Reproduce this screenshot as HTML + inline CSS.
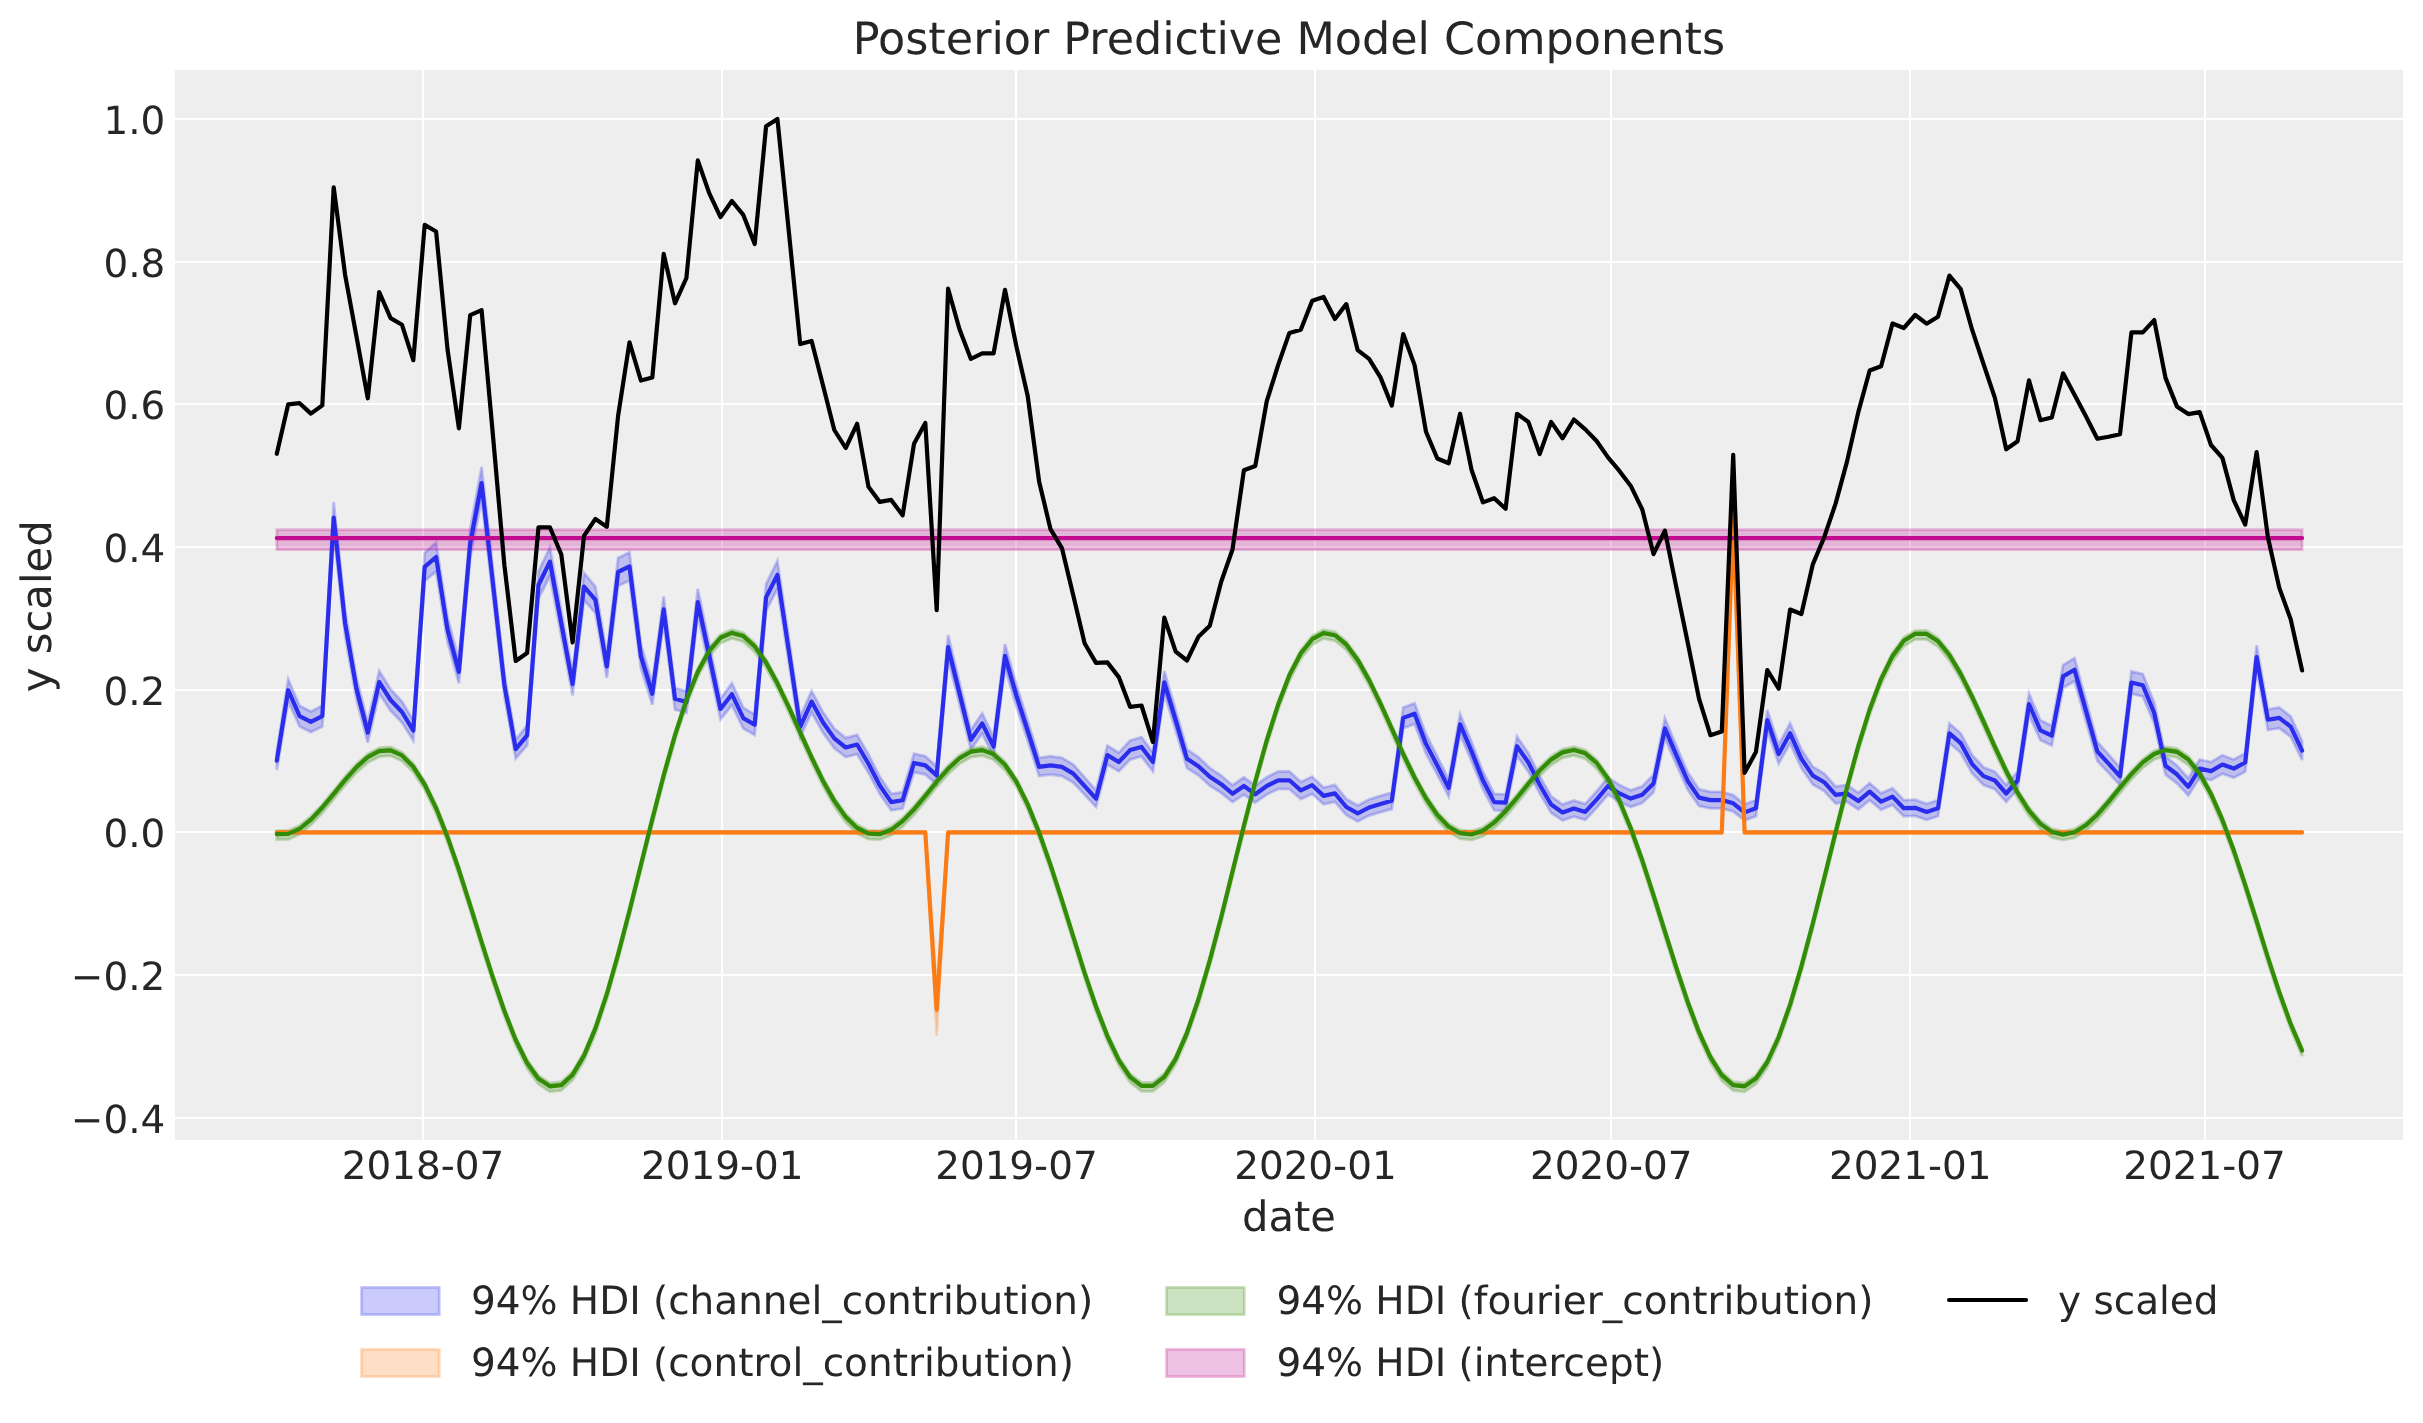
<!DOCTYPE html>
<html lang="en"><head><meta charset="utf-8"><title>Posterior Predictive Model Components</title>
<style>html,body{margin:0;padding:0;background:#fff;}body{width:2423px;height:1423px;overflow:hidden;}svg{will-change:transform;}svg text{text-rendering:geometricPrecision;font-family:"DejaVu Sans","Liberation Sans",sans-serif;}</style></head>
<body>
<svg width="2423" height="1423" viewBox="0 0 2423 1423" style="display:block">
<rect x="0" y="0" width="2423" height="1423" fill="#ffffff"/>
<rect x="175" y="70" width="2228.0" height="1070.0" fill="#eeeeee"/>
<clipPath id="ax"><rect x="175" y="70" width="2228.0" height="1070.0"/></clipPath>
<g stroke="#ffffff" stroke-width="2" fill="none">
<line x1="423" y1="70" x2="423" y2="1140"/>
<line x1="722" y1="70" x2="722" y2="1140"/>
<line x1="1016" y1="70" x2="1016" y2="1140"/>
<line x1="1315" y1="70" x2="1315" y2="1140"/>
<line x1="1611" y1="70" x2="1611" y2="1140"/>
<line x1="1910" y1="70" x2="1910" y2="1140"/>
<line x1="2205" y1="70" x2="2205" y2="1140"/>
<line x1="175" y1="1118" x2="2403" y2="1118"/>
<line x1="175" y1="975" x2="2403" y2="975"/>
<line x1="175" y1="832" x2="2403" y2="832"/>
<line x1="175" y1="690" x2="2403" y2="690"/>
<line x1="175" y1="547" x2="2403" y2="547"/>
<line x1="175" y1="404" x2="2403" y2="404"/>
<line x1="175" y1="262" x2="2403" y2="262"/>
<line x1="175" y1="119" x2="2403" y2="119"/>
</g>
<g fill="#262626" font-size="38.9">
<text x="423.1" y="1179.1" text-anchor="middle">2018-07</text>
<text x="722.2" y="1179.1" text-anchor="middle">2019-01</text>
<text x="1016.4" y="1179.1" text-anchor="middle">2019-07</text>
<text x="1315.4" y="1179.1" text-anchor="middle">2020-01</text>
<text x="1611.3" y="1179.1" text-anchor="middle">2020-07</text>
<text x="1910.3" y="1179.1" text-anchor="middle">2021-01</text>
<text x="2204.5" y="1179.1" text-anchor="middle">2021-07</text>
<text x="165.3" y="1132.8" text-anchor="end">−0.4</text>
<text x="165.3" y="990.1" text-anchor="end">−0.2</text>
<text x="165.3" y="847.4" text-anchor="end">0.0</text>
<text x="165.3" y="704.7" text-anchor="end">0.2</text>
<text x="165.3" y="562.0" text-anchor="end">0.4</text>
<text x="165.3" y="419.3" text-anchor="end">0.6</text>
<text x="165.3" y="276.6" text-anchor="end">0.8</text>
<text x="165.3" y="133.9" text-anchor="end">1.0</text>
</g>
<text x="1289.0" y="54" text-anchor="middle" font-size="44.44" fill="#262626">Posterior Predictive Model Components</text>
<text x="1289.0" y="1231.3" text-anchor="middle" font-size="41.7" fill="#262626">date</text>
<text transform="translate(50.5,606.3) rotate(-90)" text-anchor="middle" font-size="41.7" fill="#262626">y scaled</text>
<g clip-path="url(#ax)" fill="none" stroke-linejoin="round" stroke-linecap="butt">
<path d="M276.8,751.4 L288.2,679.2 L299.6,705.7 L310.9,711.6 L322.3,705.7 L333.7,502.1 L345.1,610.6 L356.5,677.8 L367.8,722.6 L379.2,670.8 L390.6,689.2 L402.0,701.5 L413.3,720.5 L424.7,552.8 L436.1,542.6 L447.5,616.9 L458.9,660.4 L470.2,528.7 L481.6,466.9 L493.0,570.2 L504.4,673.8 L515.7,739.5 L527.1,725.4 L538.5,571.3 L549.9,547.4 L561.3,610.7 L572.6,672.9 L584.0,572.9 L595.4,586.5 L606.8,654.8 L618.1,558.0 L629.5,552.3 L640.9,644.3 L652.3,682.8 L663.7,596.4 L675.0,688.0 L686.4,691.3 L697.8,588.8 L709.2,643.5 L720.5,698.5 L731.9,683.2 L743.3,707.7 L754.7,714.6 L766.1,584.0 L777.4,561.0 L788.8,638.5 L800.2,716.7 L811.6,690.9 L822.9,712.1 L834.3,728.6 L845.7,737.9 L857.1,734.8 L868.5,754.5 L879.8,776.8 L891.2,793.8 L902.6,792.0 L914.0,753.7 L925.3,756.2 L936.7,766.4 L948.1,635.1 L959.5,682.2 L970.9,730.0 L982.2,713.2 L993.6,737.1 L1005.0,644.0 L1016.4,684.7 L1027.7,720.8 L1039.1,757.8 L1050.5,756.2 L1061.9,757.8 L1073.3,764.6 L1084.6,777.3 L1096.0,790.3 L1107.4,745.6 L1118.8,752.7 L1130.1,740.5 L1141.5,737.2 L1152.9,752.8 L1164.3,671.1 L1175.7,710.1 L1187.0,749.4 L1198.4,757.0 L1209.8,767.9 L1221.2,775.5 L1232.5,785.2 L1243.9,777.3 L1255.3,785.7 L1266.7,777.3 L1278.1,771.5 L1289.4,771.5 L1300.8,781.9 L1312.2,776.6 L1323.6,787.5 L1334.9,784.9 L1346.3,798.9 L1357.7,805.5 L1369.1,799.4 L1380.5,795.8 L1391.8,792.5 L1403.2,707.5 L1414.6,703.2 L1426.0,734.2 L1437.3,756.4 L1448.7,779.4 L1460.1,714.2 L1471.5,741.8 L1482.9,771.5 L1494.2,793.8 L1505.6,794.3 L1517.0,736.6 L1528.4,753.2 L1539.7,776.1 L1551.1,796.3 L1562.5,804.4 L1573.9,800.4 L1585.3,803.9 L1596.6,791.3 L1608.0,777.3 L1619.4,784.9 L1630.8,790.2 L1642.2,786.2 L1653.5,774.8 L1664.9,718.3 L1676.3,745.6 L1687.7,772.3 L1699.0,789.2 L1710.4,791.8 L1721.8,791.8 L1733.2,795.1 L1744.6,804.4 L1755.9,800.1 L1767.3,709.9 L1778.7,744.7 L1790.1,723.3 L1801.4,749.4 L1812.8,766.7 L1824.2,773.5 L1835.6,786.5 L1847.0,784.9 L1858.3,792.8 L1869.7,783.1 L1881.1,793.3 L1892.5,788.2 L1903.8,800.1 L1915.2,799.7 L1926.6,803.9 L1938.0,800.1 L1949.4,723.4 L1960.7,733.3 L1972.1,754.9 L1983.5,767.2 L1994.9,771.7 L2006.2,785.1 L2017.6,771.7 L2029.0,693.4 L2040.4,720.3 L2051.8,725.8 L2063.1,665.0 L2074.5,658.1 L2085.9,699.9 L2097.3,741.8 L2108.6,754.5 L2120.0,767.5 L2131.4,671.3 L2142.8,674.1 L2154.2,702.5 L2165.5,756.5 L2176.9,765.4 L2188.3,778.2 L2199.7,759.5 L2211.0,762.1 L2222.4,755.3 L2233.8,759.5 L2245.2,753.2 L2256.6,645.2 L2267.9,709.4 L2279.3,707.5 L2290.7,716.5 L2302.1,741.0 L2302.1,760.1 L2290.7,736.7 L2279.3,728.2 L2267.9,730.0 L2256.6,669.0 L2245.2,771.7 L2233.8,777.7 L2222.4,773.7 L2211.0,780.1 L2199.7,777.7 L2188.3,795.4 L2176.9,783.3 L2165.5,774.8 L2154.2,723.4 L2142.8,696.4 L2131.4,693.7 L2120.0,785.3 L2108.6,772.9 L2097.3,760.9 L2085.9,721.0 L2074.5,681.2 L2063.1,687.8 L2051.8,745.6 L2040.4,740.3 L2029.0,714.8 L2017.6,789.2 L2006.2,802.0 L1994.9,789.3 L1983.5,785.0 L1972.1,773.3 L1960.7,752.8 L1949.4,743.3 L1938.0,816.3 L1926.6,819.9 L1915.2,815.9 L1903.8,816.3 L1892.5,805.0 L1881.1,809.8 L1869.7,800.2 L1858.3,809.4 L1847.0,801.8 L1835.6,803.4 L1824.2,791.0 L1812.8,784.5 L1801.4,768.1 L1790.1,743.3 L1778.7,763.6 L1767.3,730.5 L1755.9,816.3 L1744.6,820.4 L1733.2,811.5 L1721.8,808.4 L1710.4,808.4 L1699.0,805.9 L1687.7,789.8 L1676.3,764.5 L1664.9,738.5 L1653.5,792.2 L1642.2,803.1 L1630.8,806.9 L1619.4,801.8 L1608.0,794.6 L1596.6,807.9 L1585.3,819.9 L1573.9,816.6 L1562.5,820.4 L1551.1,812.7 L1539.7,793.4 L1528.4,771.7 L1517.0,755.9 L1505.6,810.8 L1494.2,810.3 L1482.9,789.1 L1471.5,760.9 L1460.1,734.6 L1448.7,796.6 L1437.3,774.7 L1426.0,753.6 L1414.6,724.1 L1403.2,728.2 L1391.8,809.1 L1380.5,812.2 L1369.1,815.6 L1357.7,821.4 L1346.3,815.1 L1334.9,801.8 L1323.6,804.3 L1312.2,793.9 L1300.8,799.0 L1289.4,789.1 L1278.1,789.1 L1266.7,794.6 L1255.3,802.6 L1243.9,794.6 L1232.5,802.1 L1221.2,792.9 L1209.8,785.7 L1198.4,775.3 L1187.0,768.1 L1175.7,730.7 L1164.3,693.6 L1152.9,771.3 L1141.5,756.5 L1130.1,759.6 L1118.8,771.2 L1107.4,764.5 L1096.0,807.0 L1084.6,794.6 L1073.3,782.6 L1061.9,776.0 L1050.5,774.6 L1039.1,776.0 L1027.7,740.8 L1016.4,706.5 L1005.0,667.8 L993.6,756.3 L982.2,733.7 L970.9,749.6 L959.5,704.2 L948.1,659.3 L936.7,784.2 L925.3,774.6 L914.0,772.2 L902.6,808.6 L891.2,810.3 L879.8,794.1 L868.5,772.9 L857.1,754.2 L845.7,757.1 L834.3,748.3 L822.9,732.6 L811.6,712.4 L800.2,737.0 L788.8,662.6 L777.4,588.8 L766.1,610.7 L754.7,735.0 L743.3,728.4 L731.9,705.1 L720.5,719.6 L709.2,667.4 L697.8,615.3 L686.4,712.8 L675.0,709.7 L663.7,622.5 L652.3,704.7 L640.9,668.1 L629.5,580.5 L618.1,586.0 L606.8,678.1 L595.4,613.1 L584.0,600.2 L572.6,695.3 L561.3,636.1 L549.9,575.9 L538.5,598.6 L527.1,745.3 L515.7,758.6 L504.4,696.2 L493.0,597.6 L481.6,499.4 L470.2,558.1 L458.9,683.4 L447.5,642.0 L436.1,571.4 L424.7,581.0 L413.3,740.6 L402.0,722.5 L390.6,710.8 L379.2,693.3 L367.8,742.6 L356.5,700.0 L345.1,636.1 L333.7,532.8 L322.3,726.5 L310.9,732.1 L299.6,726.5 L288.2,701.2 L276.8,770.0Z" fill="#2a2eec" fill-opacity="0.25" stroke="#2a2eec" stroke-opacity="0.25" stroke-width="2.78" stroke-linejoin="miter"/>
<path d="M276.8,831.3 L288.2,831.3 L299.6,831.3 L310.9,831.3 L322.3,831.3 L333.7,831.3 L345.1,831.3 L356.5,831.3 L367.8,831.3 L379.2,831.3 L390.6,831.3 L402.0,831.3 L413.3,831.3 L424.7,831.3 L436.1,831.3 L447.5,831.3 L458.9,831.3 L470.2,831.3 L481.6,831.3 L493.0,831.3 L504.4,831.3 L515.7,831.3 L527.1,831.3 L538.5,831.3 L549.9,831.3 L561.3,831.3 L572.6,831.3 L584.0,831.3 L595.4,831.3 L606.8,831.3 L618.1,831.3 L629.5,831.3 L640.9,831.3 L652.3,831.3 L663.7,831.3 L675.0,831.3 L686.4,831.3 L697.8,831.3 L709.2,831.3 L720.5,831.3 L731.9,831.3 L743.3,831.3 L754.7,831.3 L766.1,831.3 L777.4,831.3 L788.8,831.3 L800.2,831.3 L811.6,831.3 L822.9,831.3 L834.3,831.3 L845.7,831.3 L857.1,831.3 L868.5,831.3 L879.8,831.3 L891.2,831.3 L902.6,831.3 L914.0,831.3 L925.3,831.3 L936.7,985.8 L948.1,831.3 L959.5,831.3 L970.9,831.3 L982.2,831.3 L993.6,831.3 L1005.0,831.3 L1016.4,831.3 L1027.7,831.3 L1039.1,831.3 L1050.5,831.3 L1061.9,831.3 L1073.3,831.3 L1084.6,831.3 L1096.0,831.3 L1107.4,831.3 L1118.8,831.3 L1130.1,831.3 L1141.5,831.3 L1152.9,831.3 L1164.3,831.3 L1175.7,831.3 L1187.0,831.3 L1198.4,831.3 L1209.8,831.3 L1221.2,831.3 L1232.5,831.3 L1243.9,831.3 L1255.3,831.3 L1266.7,831.3 L1278.1,831.3 L1289.4,831.3 L1300.8,831.3 L1312.2,831.3 L1323.6,831.3 L1334.9,831.3 L1346.3,831.3 L1357.7,831.3 L1369.1,831.3 L1380.5,831.3 L1391.8,831.3 L1403.2,831.3 L1414.6,831.3 L1426.0,831.3 L1437.3,831.3 L1448.7,831.3 L1460.1,831.3 L1471.5,831.3 L1482.9,831.3 L1494.2,831.3 L1505.6,831.3 L1517.0,831.3 L1528.4,831.3 L1539.7,831.3 L1551.1,831.3 L1562.5,831.3 L1573.9,831.3 L1585.3,831.3 L1596.6,831.3 L1608.0,831.3 L1619.4,831.3 L1630.8,831.3 L1642.2,831.3 L1653.5,831.3 L1664.9,831.3 L1676.3,831.3 L1687.7,831.3 L1699.0,831.3 L1710.4,831.3 L1721.8,831.3 L1733.2,493.5 L1744.6,831.3 L1755.9,831.3 L1767.3,831.3 L1778.7,831.3 L1790.1,831.3 L1801.4,831.3 L1812.8,831.3 L1824.2,831.3 L1835.6,831.3 L1847.0,831.3 L1858.3,831.3 L1869.7,831.3 L1881.1,831.3 L1892.5,831.3 L1903.8,831.3 L1915.2,831.3 L1926.6,831.3 L1938.0,831.3 L1949.4,831.3 L1960.7,831.3 L1972.1,831.3 L1983.5,831.3 L1994.9,831.3 L2006.2,831.3 L2017.6,831.3 L2029.0,831.3 L2040.4,831.3 L2051.8,831.3 L2063.1,831.3 L2074.5,831.3 L2085.9,831.3 L2097.3,831.3 L2108.6,831.3 L2120.0,831.3 L2131.4,831.3 L2142.8,831.3 L2154.2,831.3 L2165.5,831.3 L2176.9,831.3 L2188.3,831.3 L2199.7,831.3 L2211.0,831.3 L2222.4,831.3 L2233.8,831.3 L2245.2,831.3 L2256.6,831.3 L2267.9,831.3 L2279.3,831.3 L2290.7,831.3 L2302.1,831.3 L2302.1,833.5 L2290.7,833.5 L2279.3,833.5 L2267.9,833.5 L2256.6,833.5 L2245.2,833.5 L2233.8,833.5 L2222.4,833.5 L2211.0,833.5 L2199.7,833.5 L2188.3,833.5 L2176.9,833.5 L2165.5,833.5 L2154.2,833.5 L2142.8,833.5 L2131.4,833.5 L2120.0,833.5 L2108.6,833.5 L2097.3,833.5 L2085.9,833.5 L2074.5,833.5 L2063.1,833.5 L2051.8,833.5 L2040.4,833.5 L2029.0,833.5 L2017.6,833.5 L2006.2,833.5 L1994.9,833.5 L1983.5,833.5 L1972.1,833.5 L1960.7,833.5 L1949.4,833.5 L1938.0,833.5 L1926.6,833.5 L1915.2,833.5 L1903.8,833.5 L1892.5,833.5 L1881.1,833.5 L1869.7,833.5 L1858.3,833.5 L1847.0,833.5 L1835.6,833.5 L1824.2,833.5 L1812.8,833.5 L1801.4,833.5 L1790.1,833.5 L1778.7,833.5 L1767.3,833.5 L1755.9,833.5 L1744.6,833.5 L1733.2,543.4 L1721.8,833.5 L1710.4,833.5 L1699.0,833.5 L1687.7,833.5 L1676.3,833.5 L1664.9,833.5 L1653.5,833.5 L1642.2,833.5 L1630.8,833.5 L1619.4,833.5 L1608.0,833.5 L1596.6,833.5 L1585.3,833.5 L1573.9,833.5 L1562.5,833.5 L1551.1,833.5 L1539.7,833.5 L1528.4,833.5 L1517.0,833.5 L1505.6,833.5 L1494.2,833.5 L1482.9,833.5 L1471.5,833.5 L1460.1,833.5 L1448.7,833.5 L1437.3,833.5 L1426.0,833.5 L1414.6,833.5 L1403.2,833.5 L1391.8,833.5 L1380.5,833.5 L1369.1,833.5 L1357.7,833.5 L1346.3,833.5 L1334.9,833.5 L1323.6,833.5 L1312.2,833.5 L1300.8,833.5 L1289.4,833.5 L1278.1,833.5 L1266.7,833.5 L1255.3,833.5 L1243.9,833.5 L1232.5,833.5 L1221.2,833.5 L1209.8,833.5 L1198.4,833.5 L1187.0,833.5 L1175.7,833.5 L1164.3,833.5 L1152.9,833.5 L1141.5,833.5 L1130.1,833.5 L1118.8,833.5 L1107.4,833.5 L1096.0,833.5 L1084.6,833.5 L1073.3,833.5 L1061.9,833.5 L1050.5,833.5 L1039.1,833.5 L1027.7,833.5 L1016.4,833.5 L1005.0,833.5 L993.6,833.5 L982.2,833.5 L970.9,833.5 L959.5,833.5 L948.1,833.5 L936.7,1035.7 L925.3,833.5 L914.0,833.5 L902.6,833.5 L891.2,833.5 L879.8,833.5 L868.5,833.5 L857.1,833.5 L845.7,833.5 L834.3,833.5 L822.9,833.5 L811.6,833.5 L800.2,833.5 L788.8,833.5 L777.4,833.5 L766.1,833.5 L754.7,833.5 L743.3,833.5 L731.9,833.5 L720.5,833.5 L709.2,833.5 L697.8,833.5 L686.4,833.5 L675.0,833.5 L663.7,833.5 L652.3,833.5 L640.9,833.5 L629.5,833.5 L618.1,833.5 L606.8,833.5 L595.4,833.5 L584.0,833.5 L572.6,833.5 L561.3,833.5 L549.9,833.5 L538.5,833.5 L527.1,833.5 L515.7,833.5 L504.4,833.5 L493.0,833.5 L481.6,833.5 L470.2,833.5 L458.9,833.5 L447.5,833.5 L436.1,833.5 L424.7,833.5 L413.3,833.5 L402.0,833.5 L390.6,833.5 L379.2,833.5 L367.8,833.5 L356.5,833.5 L345.1,833.5 L333.7,833.5 L322.3,833.5 L310.9,833.5 L299.6,833.5 L288.2,833.5 L276.8,833.5Z" fill="#fa7c17" fill-opacity="0.25" stroke="#fa7c17" stroke-opacity="0.25" stroke-width="2.78" stroke-linejoin="miter"/>
<path d="M276.8,830.8 L288.2,830.5 L299.6,825.4 L310.9,816.3 L322.3,804.2 L333.7,790.4 L345.1,776.4 L356.5,763.7 L367.8,753.8 L379.2,747.8 L390.6,747.0 L402.0,752.1 L413.3,763.4 L424.7,781.1 L436.1,804.7 L447.5,833.6 L458.9,866.5 L470.2,902.0 L481.6,938.6 L493.0,974.4 L504.4,1007.7 L515.7,1036.6 L527.1,1059.6 L538.5,1075.4 L549.9,1083.0 L561.3,1081.7 L572.6,1071.4 L584.0,1052.3 L595.4,1025.1 L606.8,990.9 L618.1,951.1 L629.5,907.4 L640.9,861.7 L652.3,815.9 L663.7,772.0 L675.0,731.8 L686.4,696.8 L697.8,668.3 L709.2,647.4 L720.5,634.5 L731.9,629.6 L743.3,632.8 L754.7,643.0 L766.1,659.2 L777.4,680.0 L788.8,703.8 L800.2,729.0 L811.6,754.1 L822.9,777.3 L834.3,797.5 L845.7,813.5 L857.1,824.6 L868.5,830.4 L879.8,830.9 L891.2,826.4 L902.6,817.8 L914.0,806.0 L925.3,792.4 L936.7,778.4 L948.1,765.4 L959.5,755.0 L970.9,748.4 L982.2,746.8 L993.6,751.0 L1005.0,761.4 L1016.4,778.2 L1027.7,801.0 L1039.1,829.2 L1050.5,861.6 L1061.9,896.9 L1073.3,933.4 L1084.6,969.4 L1096.0,1003.1 L1107.4,1032.8 L1118.8,1056.7 L1130.1,1073.7 L1141.5,1082.4 L1152.9,1082.4 L1164.3,1073.4 L1175.7,1055.5 L1187.0,1029.4 L1198.4,996.1 L1209.8,957.0 L1221.2,913.8 L1232.5,868.3 L1243.9,822.4 L1255.3,778.1 L1266.7,737.2 L1278.1,701.4 L1289.4,672.0 L1300.8,649.9 L1312.2,635.8 L1323.6,629.8 L1334.9,631.9 L1346.3,641.2 L1357.7,656.6 L1369.1,676.8 L1380.5,700.3 L1391.8,725.4 L1403.2,750.5 L1414.6,774.2 L1426.0,794.9 L1437.3,811.5 L1448.7,823.4 L1460.1,829.9 L1471.5,831.1 L1482.9,827.3 L1494.2,819.2 L1505.6,807.9 L1517.0,794.4 L1528.4,780.3 L1539.7,767.1 L1551.1,756.2 L1562.5,749.0 L1573.9,746.7 L1585.3,750.0 L1596.6,759.5 L1608.0,775.4 L1619.4,797.4 L1630.8,824.9 L1642.2,856.7 L1653.5,891.7 L1664.9,928.2 L1676.3,964.4 L1687.7,998.5 L1699.0,1028.9 L1710.4,1053.7 L1721.8,1071.7 L1733.2,1081.7 L1744.6,1083.0 L1755.9,1075.2 L1767.3,1058.6 L1778.7,1033.6 L1790.1,1001.3 L1801.4,962.9 L1812.8,920.2 L1824.2,874.8 L1835.6,828.9 L1847.0,784.2 L1858.3,742.8 L1869.7,706.2 L1881.1,675.7 L1892.5,652.6 L1903.8,637.3 L1915.2,630.6 L1926.6,630.5 L1938.0,637.8 L1949.4,651.6 L1960.7,670.6 L1972.1,693.3 L1983.5,718.1 L1994.9,743.5 L2006.2,767.7 L2017.6,789.3 L2029.0,807.2 L2040.4,820.5 L2051.8,828.6 L2063.1,831.3 L2074.5,828.9 L2085.9,821.9 L2097.3,811.4 L2108.6,798.4 L2120.0,784.3 L2131.4,770.7 L2142.8,759.0 L2154.2,750.7 L2165.5,746.8 L2176.9,748.4 L2188.3,756.1 L2199.7,770.2 L2211.0,790.5 L2222.4,816.5 L2233.8,847.3 L2245.2,881.5 L2256.6,917.7 L2267.9,954.2 L2279.3,989.1 L2290.7,1020.7 L2302.1,1047.3 L2302.1,1056.1 L2290.7,1029.5 L2279.3,997.9 L2267.9,963.0 L2256.6,926.5 L2245.2,890.3 L2233.8,856.1 L2222.4,825.4 L2211.0,799.4 L2199.7,779.1 L2188.3,765.0 L2176.9,757.3 L2165.5,755.6 L2154.2,759.5 L2142.8,767.9 L2131.4,779.6 L2120.0,793.2 L2108.6,807.2 L2097.3,820.2 L2085.9,830.8 L2074.5,837.7 L2063.1,840.1 L2051.8,837.4 L2040.4,829.3 L2029.0,816.1 L2017.6,798.2 L2006.2,776.5 L1994.9,752.3 L1983.5,727.0 L1972.1,702.1 L1960.7,679.4 L1949.4,660.5 L1938.0,646.7 L1926.6,639.4 L1915.2,639.4 L1903.8,646.2 L1892.5,661.4 L1881.1,684.6 L1869.7,715.0 L1858.3,751.6 L1847.0,793.1 L1835.6,837.7 L1824.2,883.7 L1812.8,929.0 L1801.4,971.8 L1790.1,1010.1 L1778.7,1042.5 L1767.3,1067.5 L1755.9,1084.1 L1744.6,1091.8 L1733.2,1090.6 L1721.8,1080.6 L1710.4,1062.6 L1699.0,1037.7 L1687.7,1007.4 L1676.3,973.2 L1664.9,937.0 L1653.5,900.5 L1642.2,865.6 L1630.8,833.7 L1619.4,806.3 L1608.0,784.3 L1596.6,768.4 L1585.3,758.8 L1573.9,755.5 L1562.5,757.9 L1551.1,765.1 L1539.7,776.0 L1528.4,789.2 L1517.0,803.3 L1505.6,816.7 L1494.2,828.1 L1482.9,836.2 L1471.5,840.0 L1460.1,838.7 L1448.7,832.2 L1437.3,820.4 L1426.0,803.7 L1414.6,783.0 L1403.2,759.4 L1391.8,734.2 L1380.5,709.1 L1369.1,685.6 L1357.7,665.4 L1346.3,650.0 L1334.9,640.7 L1323.6,638.6 L1312.2,644.7 L1300.8,658.8 L1289.4,680.8 L1278.1,710.2 L1266.7,746.1 L1255.3,786.9 L1243.9,831.2 L1232.5,877.1 L1221.2,922.7 L1209.8,965.9 L1198.4,1005.0 L1187.0,1038.3 L1175.7,1064.4 L1164.3,1082.3 L1152.9,1091.3 L1141.5,1091.3 L1130.1,1082.5 L1118.8,1065.6 L1107.4,1041.6 L1096.0,1012.0 L1084.6,978.3 L1073.3,942.2 L1061.9,905.7 L1050.5,870.4 L1039.1,838.0 L1027.7,809.9 L1016.4,787.0 L1005.0,770.3 L993.6,759.8 L982.2,755.6 L970.9,757.2 L959.5,763.8 L948.1,774.3 L936.7,787.2 L925.3,801.3 L914.0,814.9 L902.6,826.6 L891.2,835.3 L879.8,839.7 L868.5,839.2 L857.1,833.5 L845.7,822.4 L834.3,806.4 L822.9,786.2 L811.6,762.9 L800.2,737.9 L788.8,712.6 L777.4,688.8 L766.1,668.0 L754.7,651.9 L743.3,641.6 L731.9,638.4 L720.5,643.3 L709.2,656.2 L697.8,677.2 L686.4,705.6 L675.0,740.6 L663.7,780.8 L652.3,824.8 L640.9,870.5 L629.5,916.2 L618.1,959.9 L606.8,999.7 L595.4,1033.9 L584.0,1061.1 L572.6,1080.2 L561.3,1090.5 L549.9,1091.8 L538.5,1084.3 L527.1,1068.5 L515.7,1045.4 L504.4,1016.5 L493.0,983.3 L481.6,947.5 L470.2,910.9 L458.9,875.3 L447.5,842.4 L436.1,813.6 L424.7,790.0 L413.3,772.3 L402.0,760.9 L390.6,755.8 L379.2,756.7 L367.8,762.6 L356.5,772.6 L345.1,785.3 L333.7,799.2 L322.3,813.0 L310.9,825.1 L299.6,834.3 L288.2,839.4 L276.8,839.6Z" fill="#328c06" fill-opacity="0.25" stroke="#328c06" stroke-opacity="0.25" stroke-width="2.78" stroke-linejoin="miter"/>
<path d="M276.8,529.7 L288.2,529.7 L299.6,529.7 L310.9,529.7 L322.3,529.7 L333.7,529.7 L345.1,529.7 L356.5,529.7 L367.8,529.7 L379.2,529.7 L390.6,529.7 L402.0,529.7 L413.3,529.7 L424.7,529.7 L436.1,529.7 L447.5,529.7 L458.9,529.7 L470.2,529.7 L481.6,529.7 L493.0,529.7 L504.4,529.7 L515.7,529.7 L527.1,529.7 L538.5,529.7 L549.9,529.7 L561.3,529.7 L572.6,529.7 L584.0,529.7 L595.4,529.7 L606.8,529.7 L618.1,529.7 L629.5,529.7 L640.9,529.7 L652.3,529.7 L663.7,529.7 L675.0,529.7 L686.4,529.7 L697.8,529.7 L709.2,529.7 L720.5,529.7 L731.9,529.7 L743.3,529.7 L754.7,529.7 L766.1,529.7 L777.4,529.7 L788.8,529.7 L800.2,529.7 L811.6,529.7 L822.9,529.7 L834.3,529.7 L845.7,529.7 L857.1,529.7 L868.5,529.7 L879.8,529.7 L891.2,529.7 L902.6,529.7 L914.0,529.7 L925.3,529.7 L936.7,529.7 L948.1,529.7 L959.5,529.7 L970.9,529.7 L982.2,529.7 L993.6,529.7 L1005.0,529.7 L1016.4,529.7 L1027.7,529.7 L1039.1,529.7 L1050.5,529.7 L1061.9,529.7 L1073.3,529.7 L1084.6,529.7 L1096.0,529.7 L1107.4,529.7 L1118.8,529.7 L1130.1,529.7 L1141.5,529.7 L1152.9,529.7 L1164.3,529.7 L1175.7,529.7 L1187.0,529.7 L1198.4,529.7 L1209.8,529.7 L1221.2,529.7 L1232.5,529.7 L1243.9,529.7 L1255.3,529.7 L1266.7,529.7 L1278.1,529.7 L1289.4,529.7 L1300.8,529.7 L1312.2,529.7 L1323.6,529.7 L1334.9,529.7 L1346.3,529.7 L1357.7,529.7 L1369.1,529.7 L1380.5,529.7 L1391.8,529.7 L1403.2,529.7 L1414.6,529.7 L1426.0,529.7 L1437.3,529.7 L1448.7,529.7 L1460.1,529.7 L1471.5,529.7 L1482.9,529.7 L1494.2,529.7 L1505.6,529.7 L1517.0,529.7 L1528.4,529.7 L1539.7,529.7 L1551.1,529.7 L1562.5,529.7 L1573.9,529.7 L1585.3,529.7 L1596.6,529.7 L1608.0,529.7 L1619.4,529.7 L1630.8,529.7 L1642.2,529.7 L1653.5,529.7 L1664.9,529.7 L1676.3,529.7 L1687.7,529.7 L1699.0,529.7 L1710.4,529.7 L1721.8,529.7 L1733.2,529.7 L1744.6,529.7 L1755.9,529.7 L1767.3,529.7 L1778.7,529.7 L1790.1,529.7 L1801.4,529.7 L1812.8,529.7 L1824.2,529.7 L1835.6,529.7 L1847.0,529.7 L1858.3,529.7 L1869.7,529.7 L1881.1,529.7 L1892.5,529.7 L1903.8,529.7 L1915.2,529.7 L1926.6,529.7 L1938.0,529.7 L1949.4,529.7 L1960.7,529.7 L1972.1,529.7 L1983.5,529.7 L1994.9,529.7 L2006.2,529.7 L2017.6,529.7 L2029.0,529.7 L2040.4,529.7 L2051.8,529.7 L2063.1,529.7 L2074.5,529.7 L2085.9,529.7 L2097.3,529.7 L2108.6,529.7 L2120.0,529.7 L2131.4,529.7 L2142.8,529.7 L2154.2,529.7 L2165.5,529.7 L2176.9,529.7 L2188.3,529.7 L2199.7,529.7 L2211.0,529.7 L2222.4,529.7 L2233.8,529.7 L2245.2,529.7 L2256.6,529.7 L2267.9,529.7 L2279.3,529.7 L2290.7,529.7 L2302.1,529.7 L2302.1,549.7 L2290.7,549.7 L2279.3,549.7 L2267.9,549.7 L2256.6,549.7 L2245.2,549.7 L2233.8,549.7 L2222.4,549.7 L2211.0,549.7 L2199.7,549.7 L2188.3,549.7 L2176.9,549.7 L2165.5,549.7 L2154.2,549.7 L2142.8,549.7 L2131.4,549.7 L2120.0,549.7 L2108.6,549.7 L2097.3,549.7 L2085.9,549.7 L2074.5,549.7 L2063.1,549.7 L2051.8,549.7 L2040.4,549.7 L2029.0,549.7 L2017.6,549.7 L2006.2,549.7 L1994.9,549.7 L1983.5,549.7 L1972.1,549.7 L1960.7,549.7 L1949.4,549.7 L1938.0,549.7 L1926.6,549.7 L1915.2,549.7 L1903.8,549.7 L1892.5,549.7 L1881.1,549.7 L1869.7,549.7 L1858.3,549.7 L1847.0,549.7 L1835.6,549.7 L1824.2,549.7 L1812.8,549.7 L1801.4,549.7 L1790.1,549.7 L1778.7,549.7 L1767.3,549.7 L1755.9,549.7 L1744.6,549.7 L1733.2,549.7 L1721.8,549.7 L1710.4,549.7 L1699.0,549.7 L1687.7,549.7 L1676.3,549.7 L1664.9,549.7 L1653.5,549.7 L1642.2,549.7 L1630.8,549.7 L1619.4,549.7 L1608.0,549.7 L1596.6,549.7 L1585.3,549.7 L1573.9,549.7 L1562.5,549.7 L1551.1,549.7 L1539.7,549.7 L1528.4,549.7 L1517.0,549.7 L1505.6,549.7 L1494.2,549.7 L1482.9,549.7 L1471.5,549.7 L1460.1,549.7 L1448.7,549.7 L1437.3,549.7 L1426.0,549.7 L1414.6,549.7 L1403.2,549.7 L1391.8,549.7 L1380.5,549.7 L1369.1,549.7 L1357.7,549.7 L1346.3,549.7 L1334.9,549.7 L1323.6,549.7 L1312.2,549.7 L1300.8,549.7 L1289.4,549.7 L1278.1,549.7 L1266.7,549.7 L1255.3,549.7 L1243.9,549.7 L1232.5,549.7 L1221.2,549.7 L1209.8,549.7 L1198.4,549.7 L1187.0,549.7 L1175.7,549.7 L1164.3,549.7 L1152.9,549.7 L1141.5,549.7 L1130.1,549.7 L1118.8,549.7 L1107.4,549.7 L1096.0,549.7 L1084.6,549.7 L1073.3,549.7 L1061.9,549.7 L1050.5,549.7 L1039.1,549.7 L1027.7,549.7 L1016.4,549.7 L1005.0,549.7 L993.6,549.7 L982.2,549.7 L970.9,549.7 L959.5,549.7 L948.1,549.7 L936.7,549.7 L925.3,549.7 L914.0,549.7 L902.6,549.7 L891.2,549.7 L879.8,549.7 L868.5,549.7 L857.1,549.7 L845.7,549.7 L834.3,549.7 L822.9,549.7 L811.6,549.7 L800.2,549.7 L788.8,549.7 L777.4,549.7 L766.1,549.7 L754.7,549.7 L743.3,549.7 L731.9,549.7 L720.5,549.7 L709.2,549.7 L697.8,549.7 L686.4,549.7 L675.0,549.7 L663.7,549.7 L652.3,549.7 L640.9,549.7 L629.5,549.7 L618.1,549.7 L606.8,549.7 L595.4,549.7 L584.0,549.7 L572.6,549.7 L561.3,549.7 L549.9,549.7 L538.5,549.7 L527.1,549.7 L515.7,549.7 L504.4,549.7 L493.0,549.7 L481.6,549.7 L470.2,549.7 L458.9,549.7 L447.5,549.7 L436.1,549.7 L424.7,549.7 L413.3,549.7 L402.0,549.7 L390.6,549.7 L379.2,549.7 L367.8,549.7 L356.5,549.7 L345.1,549.7 L333.7,549.7 L322.3,549.7 L310.9,549.7 L299.6,549.7 L288.2,549.7 L276.8,549.7Z" fill="#c10c90" fill-opacity="0.25" stroke="#c10c90" stroke-opacity="0.25" stroke-width="2.78" stroke-linejoin="miter"/>
<path d="M276.8,760.7 L288.2,690.2 L299.6,716.1 L310.9,721.8 L322.3,716.1 L333.7,517.5 L345.1,623.3 L356.5,688.9 L367.8,732.6 L379.2,682.1 L390.6,700.0 L402.0,712.0 L413.3,730.6 L424.7,566.9 L436.1,557.0 L447.5,629.5 L458.9,671.9 L470.2,543.4 L481.6,483.1 L493.0,583.9 L504.4,685.0 L515.7,749.1 L527.1,735.4 L538.5,585.0 L549.9,561.6 L561.3,623.4 L572.6,684.1 L584.0,586.5 L595.4,599.8 L606.8,666.4 L618.1,572.0 L629.5,566.4 L640.9,656.2 L652.3,693.8 L663.7,609.4 L675.0,698.8 L686.4,702.0 L697.8,602.1 L709.2,655.5 L720.5,709.0 L731.9,694.2 L743.3,718.1 L754.7,724.8 L766.1,597.4 L777.4,574.9 L788.8,650.5 L800.2,726.9 L811.6,701.6 L822.9,722.3 L834.3,738.4 L845.7,747.5 L857.1,744.5 L868.5,763.7 L879.8,785.5 L891.2,802.1 L902.6,800.3 L914.0,763.0 L925.3,765.4 L936.7,775.3 L948.1,647.2 L959.5,693.2 L970.9,739.8 L982.2,723.4 L993.6,746.7 L1005.0,655.9 L1016.4,695.6 L1027.7,730.8 L1039.1,766.9 L1050.5,765.4 L1061.9,766.9 L1073.3,773.6 L1084.6,786.0 L1096.0,798.7 L1107.4,755.1 L1118.8,762.0 L1130.1,750.1 L1141.5,746.9 L1152.9,762.0 L1164.3,682.4 L1175.7,720.4 L1187.0,758.8 L1198.4,766.2 L1209.8,776.8 L1221.2,784.2 L1232.5,793.7 L1243.9,786.0 L1255.3,794.2 L1266.7,786.0 L1278.1,780.3 L1289.4,780.3 L1300.8,790.4 L1312.2,785.2 L1323.6,795.9 L1334.9,793.4 L1346.3,807.0 L1357.7,813.4 L1369.1,807.5 L1380.5,804.0 L1391.8,800.8 L1403.2,717.9 L1414.6,713.7 L1426.0,743.9 L1437.3,765.5 L1448.7,788.0 L1460.1,724.4 L1471.5,751.3 L1482.9,780.3 L1494.2,802.1 L1505.6,802.6 L1517.0,746.2 L1528.4,762.5 L1539.7,784.7 L1551.1,804.5 L1562.5,812.4 L1573.9,808.5 L1585.3,811.9 L1596.6,799.6 L1608.0,786.0 L1619.4,793.4 L1630.8,798.6 L1642.2,794.7 L1653.5,783.5 L1664.9,728.4 L1676.3,755.1 L1687.7,781.0 L1699.0,797.6 L1710.4,800.1 L1721.8,800.1 L1733.2,803.3 L1744.6,812.4 L1755.9,808.2 L1767.3,720.2 L1778.7,754.1 L1790.1,733.3 L1801.4,758.8 L1812.8,775.6 L1824.2,782.2 L1835.6,794.9 L1847.0,793.4 L1858.3,801.1 L1869.7,791.7 L1881.1,801.6 L1892.5,796.6 L1903.8,808.2 L1915.2,807.8 L1926.6,811.9 L1938.0,808.2 L1949.4,733.4 L1960.7,743.1 L1972.1,764.1 L1983.5,776.1 L1994.9,780.5 L2006.2,793.5 L2017.6,780.5 L2029.0,704.1 L2040.4,730.3 L2051.8,735.7 L2063.1,676.4 L2074.5,669.7 L2085.9,710.5 L2097.3,751.3 L2108.6,763.7 L2120.0,776.4 L2131.4,682.5 L2142.8,685.3 L2154.2,713.0 L2165.5,765.7 L2176.9,774.3 L2188.3,786.8 L2199.7,768.6 L2211.0,771.1 L2222.4,764.5 L2233.8,768.6 L2245.2,762.5 L2256.6,657.1 L2267.9,719.7 L2279.3,717.9 L2290.7,726.6 L2302.1,750.6" stroke="#2a2eec" stroke-width="4.2" stroke-linecap="round"/>
<path d="M276.8,832.4 L288.2,832.4 L299.6,832.4 L310.9,832.4 L322.3,832.4 L333.7,832.4 L345.1,832.4 L356.5,832.4 L367.8,832.4 L379.2,832.4 L390.6,832.4 L402.0,832.4 L413.3,832.4 L424.7,832.4 L436.1,832.4 L447.5,832.4 L458.9,832.4 L470.2,832.4 L481.6,832.4 L493.0,832.4 L504.4,832.4 L515.7,832.4 L527.1,832.4 L538.5,832.4 L549.9,832.4 L561.3,832.4 L572.6,832.4 L584.0,832.4 L595.4,832.4 L606.8,832.4 L618.1,832.4 L629.5,832.4 L640.9,832.4 L652.3,832.4 L663.7,832.4 L675.0,832.4 L686.4,832.4 L697.8,832.4 L709.2,832.4 L720.5,832.4 L731.9,832.4 L743.3,832.4 L754.7,832.4 L766.1,832.4 L777.4,832.4 L788.8,832.4 L800.2,832.4 L811.6,832.4 L822.9,832.4 L834.3,832.4 L845.7,832.4 L857.1,832.4 L868.5,832.4 L879.8,832.4 L891.2,832.4 L902.6,832.4 L914.0,832.4 L925.3,832.4 L936.7,1009.8 L948.1,832.4 L959.5,832.4 L970.9,832.4 L982.2,832.4 L993.6,832.4 L1005.0,832.4 L1016.4,832.4 L1027.7,832.4 L1039.1,832.4 L1050.5,832.4 L1061.9,832.4 L1073.3,832.4 L1084.6,832.4 L1096.0,832.4 L1107.4,832.4 L1118.8,832.4 L1130.1,832.4 L1141.5,832.4 L1152.9,832.4 L1164.3,832.4 L1175.7,832.4 L1187.0,832.4 L1198.4,832.4 L1209.8,832.4 L1221.2,832.4 L1232.5,832.4 L1243.9,832.4 L1255.3,832.4 L1266.7,832.4 L1278.1,832.4 L1289.4,832.4 L1300.8,832.4 L1312.2,832.4 L1323.6,832.4 L1334.9,832.4 L1346.3,832.4 L1357.7,832.4 L1369.1,832.4 L1380.5,832.4 L1391.8,832.4 L1403.2,832.4 L1414.6,832.4 L1426.0,832.4 L1437.3,832.4 L1448.7,832.4 L1460.1,832.4 L1471.5,832.4 L1482.9,832.4 L1494.2,832.4 L1505.6,832.4 L1517.0,832.4 L1528.4,832.4 L1539.7,832.4 L1551.1,832.4 L1562.5,832.4 L1573.9,832.4 L1585.3,832.4 L1596.6,832.4 L1608.0,832.4 L1619.4,832.4 L1630.8,832.4 L1642.2,832.4 L1653.5,832.4 L1664.9,832.4 L1676.3,832.4 L1687.7,832.4 L1699.0,832.4 L1710.4,832.4 L1721.8,832.4 L1733.2,518.5 L1744.6,832.4 L1755.9,832.4 L1767.3,832.4 L1778.7,832.4 L1790.1,832.4 L1801.4,832.4 L1812.8,832.4 L1824.2,832.4 L1835.6,832.4 L1847.0,832.4 L1858.3,832.4 L1869.7,832.4 L1881.1,832.4 L1892.5,832.4 L1903.8,832.4 L1915.2,832.4 L1926.6,832.4 L1938.0,832.4 L1949.4,832.4 L1960.7,832.4 L1972.1,832.4 L1983.5,832.4 L1994.9,832.4 L2006.2,832.4 L2017.6,832.4 L2029.0,832.4 L2040.4,832.4 L2051.8,832.4 L2063.1,832.4 L2074.5,832.4 L2085.9,832.4 L2097.3,832.4 L2108.6,832.4 L2120.0,832.4 L2131.4,832.4 L2142.8,832.4 L2154.2,832.4 L2165.5,832.4 L2176.9,832.4 L2188.3,832.4 L2199.7,832.4 L2211.0,832.4 L2222.4,832.4 L2233.8,832.4 L2245.2,832.4 L2256.6,832.4 L2267.9,832.4 L2279.3,832.4 L2290.7,832.4 L2302.1,832.4" stroke="#fa7c17" stroke-width="4.2" stroke-linecap="round"/>
<path d="M276.8,834.1 L288.2,833.9 L299.6,828.8 L310.9,819.6 L322.3,807.5 L333.7,793.8 L345.1,779.8 L356.5,767.1 L367.8,757.1 L379.2,751.2 L390.6,750.4 L402.0,755.4 L413.3,766.8 L424.7,784.5 L436.1,808.1 L447.5,836.9 L458.9,869.8 L470.2,905.4 L481.6,942.0 L493.0,977.8 L504.4,1011.0 L515.7,1039.9 L527.1,1063.0 L538.5,1078.8 L549.9,1086.3 L561.3,1085.1 L572.6,1074.7 L584.0,1055.6 L595.4,1028.4 L606.8,994.2 L618.1,954.4 L629.5,910.7 L640.9,865.0 L652.3,819.3 L663.7,775.3 L675.0,735.1 L686.4,700.1 L697.8,671.7 L709.2,650.8 L720.5,637.8 L731.9,632.9 L743.3,636.1 L754.7,646.4 L766.1,662.5 L777.4,683.3 L788.8,707.1 L800.2,732.4 L811.6,757.4 L822.9,780.7 L834.3,800.9 L845.7,816.9 L857.1,828.0 L868.5,833.7 L879.8,834.2 L891.2,829.8 L902.6,821.1 L914.0,809.4 L925.3,795.8 L936.7,781.7 L948.1,768.8 L959.5,758.3 L970.9,751.7 L982.2,750.1 L993.6,754.3 L1005.0,764.8 L1016.4,781.6 L1027.7,804.4 L1039.1,832.5 L1050.5,864.9 L1061.9,900.2 L1073.3,936.7 L1084.6,972.8 L1096.0,1006.5 L1107.4,1036.1 L1118.8,1060.1 L1130.1,1077.0 L1141.5,1085.8 L1152.9,1085.8 L1164.3,1076.8 L1175.7,1058.9 L1187.0,1032.8 L1198.4,999.5 L1209.8,960.4 L1221.2,917.2 L1232.5,871.6 L1243.9,825.7 L1255.3,781.4 L1266.7,740.6 L1278.1,704.8 L1289.4,675.3 L1300.8,653.3 L1312.2,639.2 L1323.6,633.1 L1334.9,635.2 L1346.3,644.5 L1357.7,659.9 L1369.1,680.1 L1380.5,703.6 L1391.8,728.7 L1403.2,753.9 L1414.6,777.5 L1426.0,798.2 L1437.3,814.9 L1448.7,826.7 L1460.1,833.2 L1471.5,834.5 L1482.9,830.7 L1494.2,822.6 L1505.6,811.2 L1517.0,797.8 L1528.4,783.7 L1539.7,770.5 L1551.1,759.6 L1562.5,752.4 L1573.9,750.0 L1585.3,753.3 L1596.6,762.9 L1608.0,778.8 L1619.4,800.8 L1630.8,828.2 L1642.2,860.1 L1653.5,895.1 L1664.9,931.5 L1676.3,967.7 L1687.7,1001.9 L1699.0,1032.2 L1710.4,1057.1 L1721.8,1075.1 L1733.2,1085.1 L1744.6,1086.3 L1755.9,1078.6 L1767.3,1062.0 L1778.7,1037.0 L1790.1,1004.6 L1801.4,966.3 L1812.8,923.5 L1824.2,878.2 L1835.6,832.2 L1847.0,787.6 L1858.3,746.1 L1869.7,709.5 L1881.1,679.1 L1892.5,655.9 L1903.8,640.7 L1915.2,633.9 L1926.6,633.9 L1938.0,641.2 L1949.4,655.0 L1960.7,673.9 L1972.1,696.7 L1983.5,721.5 L1994.9,746.8 L2006.2,771.0 L2017.6,792.7 L2029.0,810.6 L2040.4,823.9 L2051.8,831.9 L2063.1,834.6 L2074.5,832.2 L2085.9,825.3 L2097.3,814.7 L2108.6,801.7 L2120.0,787.7 L2131.4,774.1 L2142.8,762.4 L2154.2,754.0 L2165.5,750.1 L2176.9,751.8 L2188.3,759.5 L2199.7,773.6 L2211.0,793.9 L2222.4,819.9 L2233.8,850.6 L2245.2,884.8 L2256.6,921.0 L2267.9,957.5 L2279.3,992.4 L2290.7,1024.0 L2302.1,1050.6" stroke="#328c06" stroke-width="4.2" stroke-linecap="round"/>
<path d="M276.8,538.1 L288.2,538.1 L299.6,538.1 L310.9,538.1 L322.3,538.1 L333.7,538.1 L345.1,538.1 L356.5,538.1 L367.8,538.1 L379.2,538.1 L390.6,538.1 L402.0,538.1 L413.3,538.1 L424.7,538.1 L436.1,538.1 L447.5,538.1 L458.9,538.1 L470.2,538.1 L481.6,538.1 L493.0,538.1 L504.4,538.1 L515.7,538.1 L527.1,538.1 L538.5,538.1 L549.9,538.1 L561.3,538.1 L572.6,538.1 L584.0,538.1 L595.4,538.1 L606.8,538.1 L618.1,538.1 L629.5,538.1 L640.9,538.1 L652.3,538.1 L663.7,538.1 L675.0,538.1 L686.4,538.1 L697.8,538.1 L709.2,538.1 L720.5,538.1 L731.9,538.1 L743.3,538.1 L754.7,538.1 L766.1,538.1 L777.4,538.1 L788.8,538.1 L800.2,538.1 L811.6,538.1 L822.9,538.1 L834.3,538.1 L845.7,538.1 L857.1,538.1 L868.5,538.1 L879.8,538.1 L891.2,538.1 L902.6,538.1 L914.0,538.1 L925.3,538.1 L936.7,538.1 L948.1,538.1 L959.5,538.1 L970.9,538.1 L982.2,538.1 L993.6,538.1 L1005.0,538.1 L1016.4,538.1 L1027.7,538.1 L1039.1,538.1 L1050.5,538.1 L1061.9,538.1 L1073.3,538.1 L1084.6,538.1 L1096.0,538.1 L1107.4,538.1 L1118.8,538.1 L1130.1,538.1 L1141.5,538.1 L1152.9,538.1 L1164.3,538.1 L1175.7,538.1 L1187.0,538.1 L1198.4,538.1 L1209.8,538.1 L1221.2,538.1 L1232.5,538.1 L1243.9,538.1 L1255.3,538.1 L1266.7,538.1 L1278.1,538.1 L1289.4,538.1 L1300.8,538.1 L1312.2,538.1 L1323.6,538.1 L1334.9,538.1 L1346.3,538.1 L1357.7,538.1 L1369.1,538.1 L1380.5,538.1 L1391.8,538.1 L1403.2,538.1 L1414.6,538.1 L1426.0,538.1 L1437.3,538.1 L1448.7,538.1 L1460.1,538.1 L1471.5,538.1 L1482.9,538.1 L1494.2,538.1 L1505.6,538.1 L1517.0,538.1 L1528.4,538.1 L1539.7,538.1 L1551.1,538.1 L1562.5,538.1 L1573.9,538.1 L1585.3,538.1 L1596.6,538.1 L1608.0,538.1 L1619.4,538.1 L1630.8,538.1 L1642.2,538.1 L1653.5,538.1 L1664.9,538.1 L1676.3,538.1 L1687.7,538.1 L1699.0,538.1 L1710.4,538.1 L1721.8,538.1 L1733.2,538.1 L1744.6,538.1 L1755.9,538.1 L1767.3,538.1 L1778.7,538.1 L1790.1,538.1 L1801.4,538.1 L1812.8,538.1 L1824.2,538.1 L1835.6,538.1 L1847.0,538.1 L1858.3,538.1 L1869.7,538.1 L1881.1,538.1 L1892.5,538.1 L1903.8,538.1 L1915.2,538.1 L1926.6,538.1 L1938.0,538.1 L1949.4,538.1 L1960.7,538.1 L1972.1,538.1 L1983.5,538.1 L1994.9,538.1 L2006.2,538.1 L2017.6,538.1 L2029.0,538.1 L2040.4,538.1 L2051.8,538.1 L2063.1,538.1 L2074.5,538.1 L2085.9,538.1 L2097.3,538.1 L2108.6,538.1 L2120.0,538.1 L2131.4,538.1 L2142.8,538.1 L2154.2,538.1 L2165.5,538.1 L2176.9,538.1 L2188.3,538.1 L2199.7,538.1 L2211.0,538.1 L2222.4,538.1 L2233.8,538.1 L2245.2,538.1 L2256.6,538.1 L2267.9,538.1 L2279.3,538.1 L2290.7,538.1 L2302.1,538.1" stroke="#c10c90" stroke-width="4.2" stroke-linecap="round"/>
<path d="M276.8,453.8 L288.2,404.3 L299.6,403.2 L310.9,413.6 L322.3,405.4 L333.7,187.3 L345.1,274.8 L356.5,336.7 L367.8,398.3 L379.2,292.0 L390.6,318.1 L402.0,324.8 L413.3,360.2 L424.7,224.9 L436.1,231.5 L447.5,349.1 L458.9,428.3 L470.2,315.2 L481.6,310.2 L493.0,436.0 L504.4,565.2 L515.7,660.9 L527.1,653.0 L538.5,527.3 L549.9,527.3 L561.3,554.5 L572.6,642.4 L584.0,535.9 L595.4,518.9 L606.8,526.8 L618.1,415.9 L629.5,342.3 L640.9,380.5 L652.3,377.5 L663.7,253.9 L675.0,303.3 L686.4,278.0 L697.8,160.4 L709.2,193.1 L720.5,217.1 L731.9,201.0 L743.3,214.9 L754.7,244.1 L766.1,126.3 L777.4,118.9 L788.8,231.3 L800.2,344.1 L811.6,340.9 L822.9,385.0 L834.3,430.0 L845.7,448.0 L857.1,423.8 L868.5,486.8 L879.8,501.9 L891.2,499.9 L902.6,515.3 L914.0,443.8 L925.3,422.9 L936.7,610.2 L948.1,288.7 L959.5,329.2 L970.9,358.9 L982.2,353.4 L993.6,353.4 L1005.0,289.9 L1016.4,346.5 L1027.7,396.0 L1039.1,481.4 L1050.5,529.2 L1061.9,548.1 L1073.3,595.4 L1084.6,643.2 L1096.0,662.9 L1107.4,662.4 L1118.8,677.1 L1130.1,706.8 L1141.5,705.5 L1152.9,741.9 L1164.3,617.6 L1175.7,651.6 L1187.0,660.5 L1198.4,636.8 L1209.8,625.8 L1221.2,581.7 L1232.5,549.5 L1243.9,470.2 L1255.3,466.0 L1266.7,401.4 L1278.1,365.1 L1289.4,332.9 L1300.8,329.7 L1312.2,300.7 L1323.6,297.0 L1334.9,319.0 L1346.3,304.1 L1357.7,350.2 L1369.1,358.9 L1380.5,377.4 L1391.8,405.6 L1403.2,334.0 L1414.6,365.1 L1426.0,431.8 L1437.3,458.5 L1448.7,463.3 L1460.1,413.7 L1471.5,469.7 L1482.9,502.4 L1494.2,498.2 L1505.6,508.8 L1517.0,413.8 L1528.4,422.0 L1539.7,454.1 L1551.1,421.9 L1562.5,438.3 L1573.9,419.5 L1585.3,429.4 L1596.6,441.0 L1608.0,457.4 L1619.4,470.9 L1630.8,485.9 L1642.2,509.3 L1653.5,554.1 L1664.9,530.7 L1676.3,587.2 L1687.7,642.5 L1699.0,698.6 L1710.4,735.2 L1721.8,731.5 L1733.2,454.8 L1744.6,772.8 L1755.9,752.1 L1767.3,670.0 L1778.7,688.7 L1790.1,609.5 L1801.4,614.0 L1812.8,564.4 L1824.2,537.2 L1835.6,503.6 L1847.0,461.6 L1858.3,412.1 L1869.7,370.5 L1881.1,366.3 L1892.5,323.5 L1903.8,328.0 L1915.2,315.0 L1926.6,323.7 L1938.0,316.8 L1949.4,275.6 L1960.7,289.1 L1972.1,329.7 L1983.5,364.0 L1994.9,397.9 L2006.2,449.3 L2017.6,441.2 L2029.0,380.3 L2040.4,420.2 L2051.8,417.5 L2063.1,373.3 L2074.5,394.7 L2085.9,416.3 L2097.3,438.8 L2108.6,436.8 L2120.0,434.3 L2131.4,332.4 L2142.8,332.4 L2154.2,320.1 L2165.5,377.9 L2176.9,406.4 L2188.3,414.1 L2199.7,412.1 L2211.0,445.0 L2222.4,457.9 L2233.8,500.4 L2245.2,524.6 L2256.6,452.0 L2267.9,537.2 L2279.3,587.9 L2290.7,619.4 L2302.1,670.4" stroke="#000000" stroke-width="4.2" stroke-linecap="round"/>
</g>
<g font-size="38.96" fill="#262626">
<rect x="361.5" y="1287.4" width="77.8" height="27.2" fill="#2a2eec" fill-opacity="0.25" stroke="#2a2eec" stroke-opacity="0.25" stroke-width="2.78"/>
<text x="470.9" y="1313.8">94% HDI (channel_contribution)</text>
<rect x="361.5" y="1349.4" width="77.8" height="27.2" fill="#fa7c17" fill-opacity="0.25" stroke="#fa7c17" stroke-opacity="0.25" stroke-width="2.78"/>
<text x="470.9" y="1375.8">94% HDI (control_contribution)</text>
<rect x="1166.5" y="1287.4" width="77.8" height="27.2" fill="#328c06" fill-opacity="0.25" stroke="#328c06" stroke-opacity="0.25" stroke-width="2.78"/>
<text x="1276.4" y="1313.8">94% HDI (fourier_contribution)</text>
<rect x="1166.5" y="1349.4" width="77.8" height="27.2" fill="#c10c90" fill-opacity="0.25" stroke="#c10c90" stroke-opacity="0.25" stroke-width="2.78"/>
<text x="1276.4" y="1375.8">94% HDI (intercept)</text>
<line x1="1949.05" y1="1300" x2="2026.05" y2="1300" stroke="#000" stroke-width="4.2" stroke-linecap="round"/>
<text x="2058.0" y="1313.8">y scaled</text>
</g>
</svg>
</body></html>
